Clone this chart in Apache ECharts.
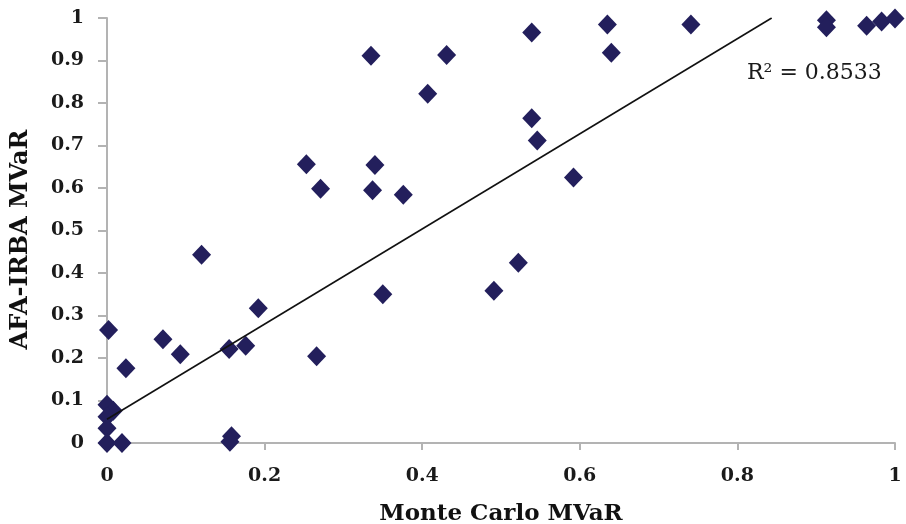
<!DOCTYPE html>
<html>
<head>
<meta charset="utf-8">
<title>AFA-IRBA vs Monte Carlo MVaR</title>
<script src="https://cdn.jsdelivr.net/npm/echarts@6/dist/echarts.min.js"></script>
<style>
  html, body { margin: 0; padding: 0; background: #fff; }
  #chart { width: 906px; height: 524px; }
</style>
</head>
<body>
<div id="chart"></div>
<script>
// Monte Carlo MVaR (x) vs AFA-IRBA MVaR (y)
var monteCarlo = [
  0.335, 0.431, 0.407, 0.539, 0.635, 0.640, 0.741, 0.913, 0.913, 0.964,
  0.983, 1.000, 0.539, 0.546, 0.592, 0.253, 0.271, 0.340, 0.337, 0.376,
  0.120, 0.350, 0.491, 0.522, 0.192, 0.266, 0.002, 0.071, 0.093, 0.024,
  0.155, 0.176, 0.000, 0.008, 0.000, 0.000, 0.000, 0.019, 0.158, 0.156
];
var afaIrba = [
  0.911, 0.913, 0.822, 0.966, 0.985, 0.918, 0.985, 0.995, 0.978, 0.982,
  0.992, 0.999, 0.764, 0.712, 0.625, 0.656, 0.598, 0.654, 0.595, 0.584,
  0.443, 0.350, 0.358, 0.424, 0.317, 0.204, 0.266, 0.244, 0.209, 0.176,
  0.221, 0.229, 0.090, 0.076, 0.062, 0.035, 0.000, 0.000, 0.016, 0.003
];

// linear trend line (end points as drawn in the original, clipped at y = 1)
var trendX = [0, 0.8435];
var trendY = [0.056, 1];
var rSquared = '0.8533';

var points = monteCarlo.map(function (x, i) { return [x, afaIrba[i]]; });
var trend = trendX.map(function (x, i) { return [x, trendY[i]]; });

var serif = '"DejaVu Serif", "Liberation Serif", serif';
var axisGrey = '#b3b3b3';

var chart = echarts.init(document.getElementById('chart'), null, { renderer: 'canvas' });

var option = {
  backgroundColor: '#fff',
  animation: false,
  grid: {
    left: 107,
    right: 11,
    top: 18,
    bottom: 81,
    outerBoundsMode: 'none'
  },
  xAxis: {
    type: 'value',
    min: 0,
    max: 1,
    interval: 0.2,
    name: 'Monte Carlo MVaR',
    nameLocation: 'middle',
    nameGap: 60,
    nameTextStyle: { fontFamily: serif, fontWeight: 'bold', fontSize: 23, color: '#111' },
    axisLine: { lineStyle: { color: axisGrey, width: 2 } },
    axisTick: { show: true, length: 7, lineStyle: { color: axisGrey, width: 2 } },
    axisLabel: { margin: 24, fontFamily: serif, fontWeight: 'bold', fontSize: 19, color: '#1a1a1a' },
    splitLine: { show: false }
  },
  yAxis: {
    type: 'value',
    min: 0,
    max: 1,
    interval: 0.1,
    name: 'AFA-IRBA MVaR',
    nameLocation: 'middle',
    nameGap: 74,
    nameTextStyle: {
      fontFamily: serif, fontWeight: 'bold', fontSize: 24, color: '#111',
      padding: [0, 18, 0, 0]
    },
    axisLine: { show: true, lineStyle: { color: axisGrey, width: 2 } },
    axisTick: { show: true, length: 9, lineStyle: { color: axisGrey, width: 2 } },
    axisLabel: { margin: 23, fontFamily: serif, fontWeight: 'bold', fontSize: 19, color: '#1a1a1a' },
    splitLine: { show: false }
  },
  graphic: [{
    type: 'text',
    left: 747,
    top: 62,
    style: {
      text: 'R\u00b2 = ' + rSquared,
      font: '22px ' + serif,
      fill: '#1a1a1a'
    }
  }],
  series: [
    {
      name: 'MVaR',
      type: 'scatter',
      symbol: 'diamond',
      symbolSize: [19, 20],
      itemStyle: { color: '#231f5c', opacity: 1 },
      data: points,
      z: 3
    },
    {
      name: 'Linear',
      type: 'line',
      data: trend,
      symbol: 'none',
      silent: true,
      lineStyle: { color: '#111', width: 1.6 },
      z: 4
    }
  ]
};

chart.setOption(option);
</script>
</body>
</html>
